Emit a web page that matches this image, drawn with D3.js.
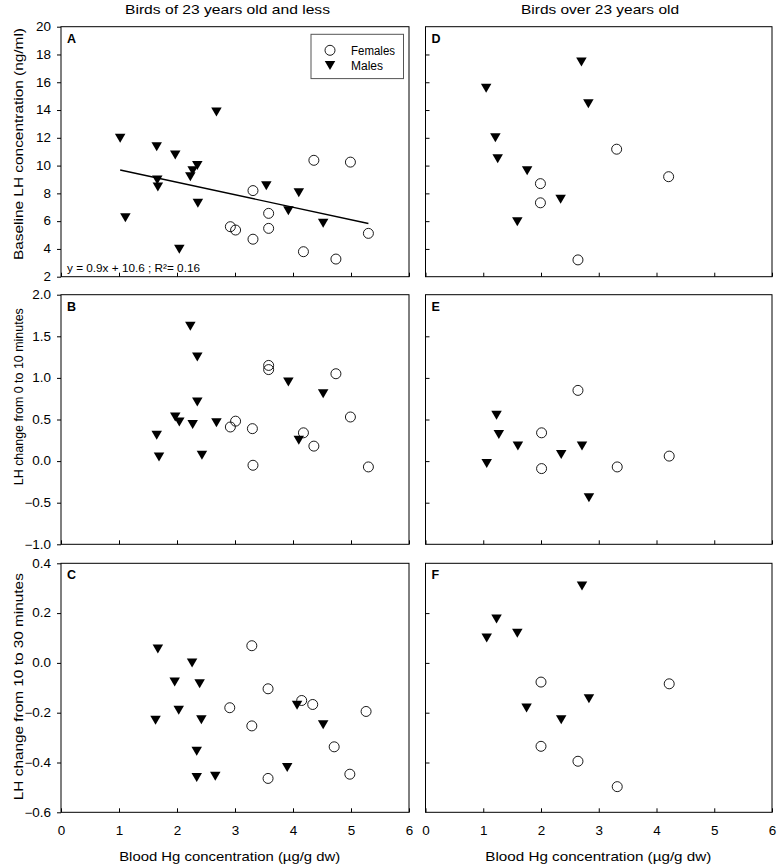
<!DOCTYPE html>
<html><head><meta charset="utf-8">
<script src="https://cdn.jsdelivr.net/npm/d3@7"></script>
<style>body{margin:0;background:#fff}svg{display:block}text{font-family:"Liberation Sans",Arial,sans-serif}</style>
</head><body>
<svg id="c" width="779" height="867"></svg>
<script>
// ---- data ----
const columnTitles = ["Birds of 23 years old and less", "Birds over 23 years old"];
const rowLabels = ["Baseline LH concentration (ng/ml)", "LH change from 0 to 10 minutes", "LH change from 10 to 30 minutes"];
const xLabel = "Blood Hg concentration (µg/g dw)";
const xTicks = [0,1,2,3,4,5,6];
const yTicksRow1 = [2,4,6,8,10,12,14,16,18,20];
const yTicksRow2 = [-1.0,-0.5,0.0,0.5,1.0,1.5,2.0];
const yTicksRow3 = [-0.6,-0.4,-0.2,0.0,0.2,0.4];
const legendLabels = ["Females", "Males"];
const equationText = "y = 0.9x + 10.6 ; R²= 0.16";
const regSlope = -0.9, regIntercept = 10.6, regRange = [1.02, 5.3];

const femalesA = [[2.92,5.6],[3.01,5.36],[3.31,8.2],[3.31,4.7],[3.58,6.56],[3.58,5.48],[4.36,10.38],[4.18,3.8],[4.74,3.27],[4.99,10.25],[5.3,5.12]];
const malesA = [[1.02,11.96],[1.11,6.25],[1.65,11.36],[1.66,8.96],[1.67,8.45],[1.97,10.76],[2.04,3.97],[2.23,9.2],[2.27,9.63],[2.35,10.0],[2.36,7.28],[2.68,13.85],[3.54,8.55],[3.92,6.75],[4.1,8.05],[4.52,5.84]];
const femalesB = [[2.92,0.41],[3.01,0.48],[3.3,0.39],[3.31,-0.05],[3.58,1.15],[3.58,1.1],[4.74,1.05],[4.99,0.53],[4.18,0.34],[4.36,0.18],[5.3,-0.07]];
const malesB = [[2.23,1.62],[2.35,1.25],[2.35,0.71],[1.97,0.53],[2.04,0.47],[2.27,0.44],[2.68,0.46],[1.65,0.31],[1.69,0.05],[2.43,0.07],[3.92,0.95],[4.52,0.81],[4.1,0.25]];
const femalesC = [[3.29,0.069],[2.91,-0.18],[3.29,-0.253],[3.57,-0.104],[3.57,-0.464],[4.15,-0.151],[4.34,-0.167],[4.71,-0.337],[4.98,-0.447],[5.26,-0.195]];
const malesC = [[1.67,0.056],[2.26,0.0],[1.96,-0.077],[2.39,-0.084],[2.03,-0.19],[1.63,-0.23],[2.42,-0.228],[2.34,-0.355],[2.34,-0.46],[2.66,-0.455],[3.9,-0.42],[4.07,-0.17],[4.52,-0.248]];
const femalesD = [[3.31,11.18],[4.21,9.2],[1.99,8.7],[1.99,7.32],[2.64,3.21]];
const malesD = [[2.7,17.46],[1.05,15.56],[2.82,14.46],[1.21,12.01],[1.25,10.5],[1.76,9.62],[2.34,7.58],[1.59,5.95]];
const femalesE = [[2.64,0.85],[2.01,0.34],[2.01,-0.09],[3.32,-0.07],[4.22,0.06]];
const malesE = [[1.23,0.55],[1.27,0.32],[1.6,0.18],[1.06,-0.03],[2.35,0.08],[2.71,0.18],[2.83,-0.44]];
const femalesF = [[2.0,-0.077],[4.22,-0.084],[2.0,-0.335],[2.64,-0.395],[3.32,-0.497]];
const malesF = [[2.71,0.309],[1.23,0.176],[1.06,0.1],[1.59,0.119],[2.83,-0.144],[1.75,-0.181],[2.35,-0.228]];

// ---- layout ----
const svg = d3.select("#c");
const FONT = "Liberation Sans, Arial, sans-serif";
const cols = [{x0:61, x1:409, titleX:227.5, xLabX:229.7, titleLen:205, xLabLen:221},
              {x0:425.5, x1:772, titleX:600, xLabX:598.3, titleLen:158, xLabLen:226}];
const rows = [{y0:26.7, y1:276.7, ticks:yTicksRow1, fmt:d3.format("d"), labelY:144, labelLen:232},
              {y0:294.7, y1:544.3, ticks:yTicksRow2, fmt:d3.format(".1f"), labelY:396.7, labelLen:177},
              {y0:563.3, y1:812.3, ticks:yTicksRow3, fmt:d3.format(".1f"), labelY:686.7, labelLen:227}];
const panels = [
  {r:0,c:0,letter:"A",f:femalesA,m:malesA},
  {r:1,c:0,letter:"B",f:femalesB,m:malesB},
  {r:2,c:0,letter:"C",f:femalesC,m:malesC},
  {r:0,c:1,letter:"D",f:femalesD,m:malesD},
  {r:1,c:1,letter:"E",f:femalesE,m:malesE},
  {r:2,c:1,letter:"F",f:femalesF,m:malesF}
];
const triPath = (w,h)=>`M${-w/2},${-h/2}L${w/2},${-h/2}L0,${h/2}Z`;
function stretch(sel, k){
  sel.each(function(){ const w=this.getComputedTextLength(); d3.select(this).attr("textLength",w*k).attr("lengthAdjust","spacingAndGlyphs"); });
}

panels.forEach(p=>{
  const col = cols[p.c], row = rows[p.r];
  const x = d3.scaleLinear().domain([0,6]).range([col.x0,col.x1]);
  const y = d3.scaleLinear().domain(d3.extent(row.ticks)).range([row.y1,row.y0]);
  const g = svg.append("g");
  g.append("rect").attr("x",col.x0).attr("y",row.y0).attr("width",col.x1-col.x0).attr("height",row.y1-row.y0)
    .attr("fill","none").attr("stroke","#000").attr("stroke-width",1);
  const xa = g.append("g").attr("transform",`translate(0,${row.y1})`)
    .call(d3.axisTop(x).tickValues(xTicks).tickSize(4).tickFormat(""));
  xa.select(".domain").remove();
  xa.selectAll(".tick line").attr("stroke","#000");
  if(p.r===2){
    const xl = g.append("g").attr("transform",`translate(0,${row.y1})`)
      .call(d3.axisBottom(x).tickValues(xTicks).tickSize(0).tickPadding(14).tickFormat(d3.format("d")));
    xl.select(".domain").remove();
    xl.selectAll("text").attr("font-size",12).attr("fill","#000").attr("font-family",FONT).call(stretch,1.12);
  }
  if(p.c===0){
    const ya = g.append("g").attr("transform",`translate(${col.x0},0)`)
      .call(d3.axisLeft(y).tickValues(row.ticks).tickSize(4).tickPadding(6).tickFormat(row.fmt));
    ya.select(".domain").remove();
    ya.selectAll("line").attr("stroke","#000");
    ya.selectAll("text").attr("font-size",12).attr("fill","#000").attr("font-family",FONT).call(stretch,1.12);
  } else {
    const ya = g.append("g").attr("transform",`translate(${col.x0},0)`)
      .call(d3.axisRight(y).tickValues(row.ticks.slice(1,-1)).tickSize(4).tickFormat(""));
    ya.select(".domain").remove();
    ya.selectAll("line").attr("stroke","#000");
  }
  g.append("text").attr("x",col.x0+6).attr("y",row.y0+16).attr("font-size",12.5).attr("font-weight","bold").text(p.letter);
  if(p.letter==="A"){
    g.append("line").attr("x1",x(regRange[0])).attr("y1",y(regIntercept+regSlope*regRange[0]))
      .attr("x2",x(regRange[1])).attr("y2",y(regIntercept+regSlope*regRange[1]))
      .attr("stroke","#000").attr("stroke-width",1.3);
    g.append("text").attr("x",col.x0+6).attr("y",row.y1-5).attr("font-size",11)
      .attr("textLength",133).attr("lengthAdjust","spacingAndGlyphs").text(equationText);
  }
  g.selectAll(".f").data(p.f).join("circle").attr("cx",d=>x(d[0])).attr("cy",d=>y(d[1])).attr("r",5)
    .attr("fill","none").attr("stroke","#000").attr("stroke-width",0.9);
  g.selectAll(".m").data(p.m).join("path").attr("d",triPath(10.5,9))
    .attr("transform",d=>`translate(${x(d[0])},${y(d[1])})`).attr("fill","#000");
});

// legend
const lg = svg.append("g");
lg.append("rect").attr("x",311).attr("y",34.3).attr("width",92.5).attr("height",44.3).attr("fill","#fff").attr("stroke","#555").attr("stroke-width",1);
lg.append("circle").attr("cx",330).attr("cy",50.3).attr("r",5).attr("fill","none").attr("stroke","#000").attr("stroke-width",0.9);
lg.append("path").attr("d",triPath(10.5,9)).attr("transform","translate(330,65.5)").attr("fill","#000");
lg.append("text").attr("x",351).attr("y",54.5).attr("font-size",12).attr("textLength",44).attr("lengthAdjust","spacingAndGlyphs").text(legendLabels[0]);
lg.append("text").attr("x",351).attr("y",69.5).attr("font-size",12).text(legendLabels[1]);

// titles
cols.forEach((c,i)=>{
  svg.append("text").attr("x",c.titleX).attr("y",14.3).attr("text-anchor","middle").attr("font-size",13)
    .attr("textLength",c.titleLen).attr("lengthAdjust","spacingAndGlyphs").text(columnTitles[i]);
  svg.append("text").attr("x",c.xLabX).attr("y",861).attr("text-anchor","middle").attr("font-size",13.5)
    .attr("textLength",c.xLabLen).attr("lengthAdjust","spacingAndGlyphs").text(xLabel);
});
rows.forEach((r,i)=>{
  svg.append("text").attr("transform",`translate(23,${r.labelY}) rotate(-90)`).attr("text-anchor","middle")
    .attr("font-size",13).attr("textLength",r.labelLen).attr("lengthAdjust","spacingAndGlyphs").text(rowLabels[i]);
});
</script>
</body></html>
